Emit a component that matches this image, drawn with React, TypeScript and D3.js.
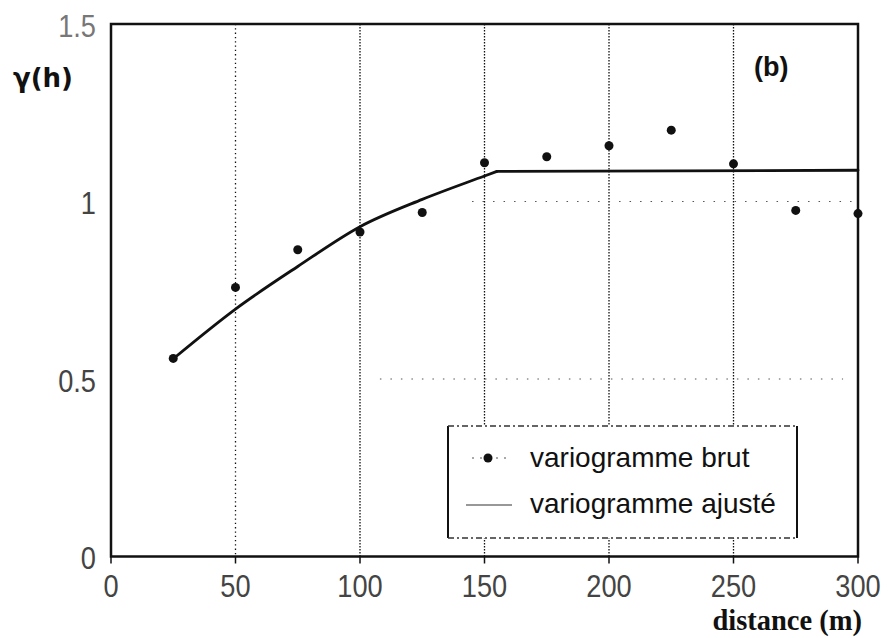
import React from "react";
import * as d3 from "d3";

const lagDistances = [25, 50, 75, 100, 125, 150, 175, 200, 225, 250, 275, 300];
const rawGamma = [0.558, 0.758, 0.864, 0.914, 0.969, 1.109, 1.126, 1.157, 1.201, 1.106, 0.975, 0.966];
const fitDistances = [25, 50, 75, 100, 125, 150, 155, 300];
const fitGamma = [0.557, 0.697, 0.817, 0.929, 1.006, 1.072, 1.085, 1.088];
const xTicks = [0, 50, 100, 150, 200, 250, 300];
const yTicks = [0, 0.5, 1, 1.5];
const yTickLabels = ["0", "0.5", "1", "1.5"];
const vGrid = [50, 100, 150, 200, 250];

export default function App() {
  const W = 894, H = 638;
  const x = d3.scaleLinear().domain([0, 300]).range([111, 858]);
  const y = d3.scaleLinear().domain([0, 1.5]).range([556.5, 24]);
  const rise = fitDistances.slice(0, 7);
  const riseLine = d3
    .line<number>()
    .x((_, i) => x(rise[i]))
    .y((d) => y(d))
    .curve(d3.curveMonotoneX);
  const flatLine = d3
    .line<number>()
    .x((_, i) => x(fitDistances[6 + i]))
    .y((d) => y(d));
  const tickFont = "'Liberation Sans', Arial, sans-serif";
  return (
    <svg width={W} height={H} style={{ position: "absolute", left: 0, top: 0, background: "#fff" }}>
      <rect x={0} y={0} width={W} height={H} fill="#fff" />
      {/* vertical grid */}
      {vGrid.map((v) => (
        <line key={v} x1={x(v)} x2={x(v)} y1={y(1.5)} y2={y(0)} stroke="#111" strokeWidth={1.3}
          strokeDasharray={v === 50 ? "1.3,3" : "1.5,1.5"} />
      ))}
      {/* horizontal grid (sparse) */}
      <line x1={x(145)} x2={x(300)} y1={y(1)} y2={y(1)} stroke="#555" strokeWidth={1} strokeDasharray="1.5,9" />
      <line x1={x(108)} x2={x(294)} y1={y(0.5)} y2={y(0.5)} stroke="#555" strokeWidth={1} strokeDasharray="1.5,9" />
      {/* frame */}
      <rect x={x(0)} y={y(1.5)} width={x(300) - x(0)} height={y(0) - y(1.5)} fill="none" stroke="#111" strokeWidth={2.5} />
      {/* x ticks */}
      {xTicks.map((t) => (
        <line key={t} x1={x(t)} x2={x(t)} y1={y(0)} y2={y(0) + 7} stroke="#111" strokeWidth={1.5} />
      ))}
      {xTicks.map((t) => (
        <text key={"l" + t} transform={`translate(${x(t)},597) scale(0.85,1)`} textAnchor="middle"
          fontFamily={tickFont} fontSize={32} fill="#444">{t}</text>
      ))}
      {yTicks.map((t, i) => (
        <text key={"y" + t} transform={`translate(96,${y(t) + 12.5}) scale(0.85,1)`} textAnchor="end"
          fontFamily={tickFont} fontSize={32} fill={t === 1.5 ? "#777" : "#444"}>{yTickLabels[i]}</text>
      ))}
      {/* fitted line */}
      <path d={riseLine(fitGamma.slice(0, 7)) || ""} fill="none" stroke="#111" strokeWidth={2.8} strokeLinejoin="round" strokeLinecap="round" />
      <path d={flatLine(fitGamma.slice(6)) || ""} fill="none" stroke="#111" strokeWidth={2.8} strokeLinecap="round" />
      {/* raw points */}
      {rawGamma.map((g, i) => (
        <circle key={"p" + i} cx={x(lagDistances[i])} cy={y(g)} r={4.5} fill="#111" />
      ))}
      {/* labels */}
      <text x={13} y={87} fontFamily="'DejaVu Sans', sans-serif" fontWeight="bold" fontSize={26} fill="#111">γ(h)</text>
      <text x={754} y={76} fontFamily="'Liberation Sans', Arial, sans-serif" fontWeight="bold" fontSize={27} fill="#111">(b)</text>
      <text x={862} y={630} textAnchor="end" fontFamily="'Liberation Serif', 'Times New Roman', serif" fontWeight="bold" fontSize={28.5} fill="#111">distance (m)</text>
      {/* legend */}
      <g>
        <rect x={448} y={426} width={349} height={112} fill="#fff" stroke="none" />
        <line x1={448} x2={448} y1={426} y2={538} stroke="#111" strokeWidth={2} />
        <line x1={797} x2={797} y1={426} y2={538} stroke="#111" strokeWidth={2} />
        <line x1={448} x2={797} y1={426} y2={426} stroke="#333" strokeWidth={1.3} strokeDasharray="6,3,2,3" />
        <line x1={448} x2={797} y1={538} y2={538} stroke="#333" strokeWidth={1.3} strokeDasharray="6,3,2,3" />
        <line x1={472} x2={512} y1={458} y2={458} stroke="#555" strokeWidth={1} strokeDasharray="2,6" />
        <circle cx={488} cy={458} r={4.5} fill="#111" />
        <text x={530} y={467} fontFamily="'Liberation Sans', Arial, sans-serif" fontSize={28} fill="#111">variogramme brut</text>
        <line x1={466} x2={512} y1={505} y2={505} stroke="#333" strokeWidth={1.2} />
        <text x={530} y={513} fontFamily="'Liberation Sans', Arial, sans-serif" fontSize={28} fill="#111">variogramme ajusté</text>
      </g>
    </svg>
  );
}
